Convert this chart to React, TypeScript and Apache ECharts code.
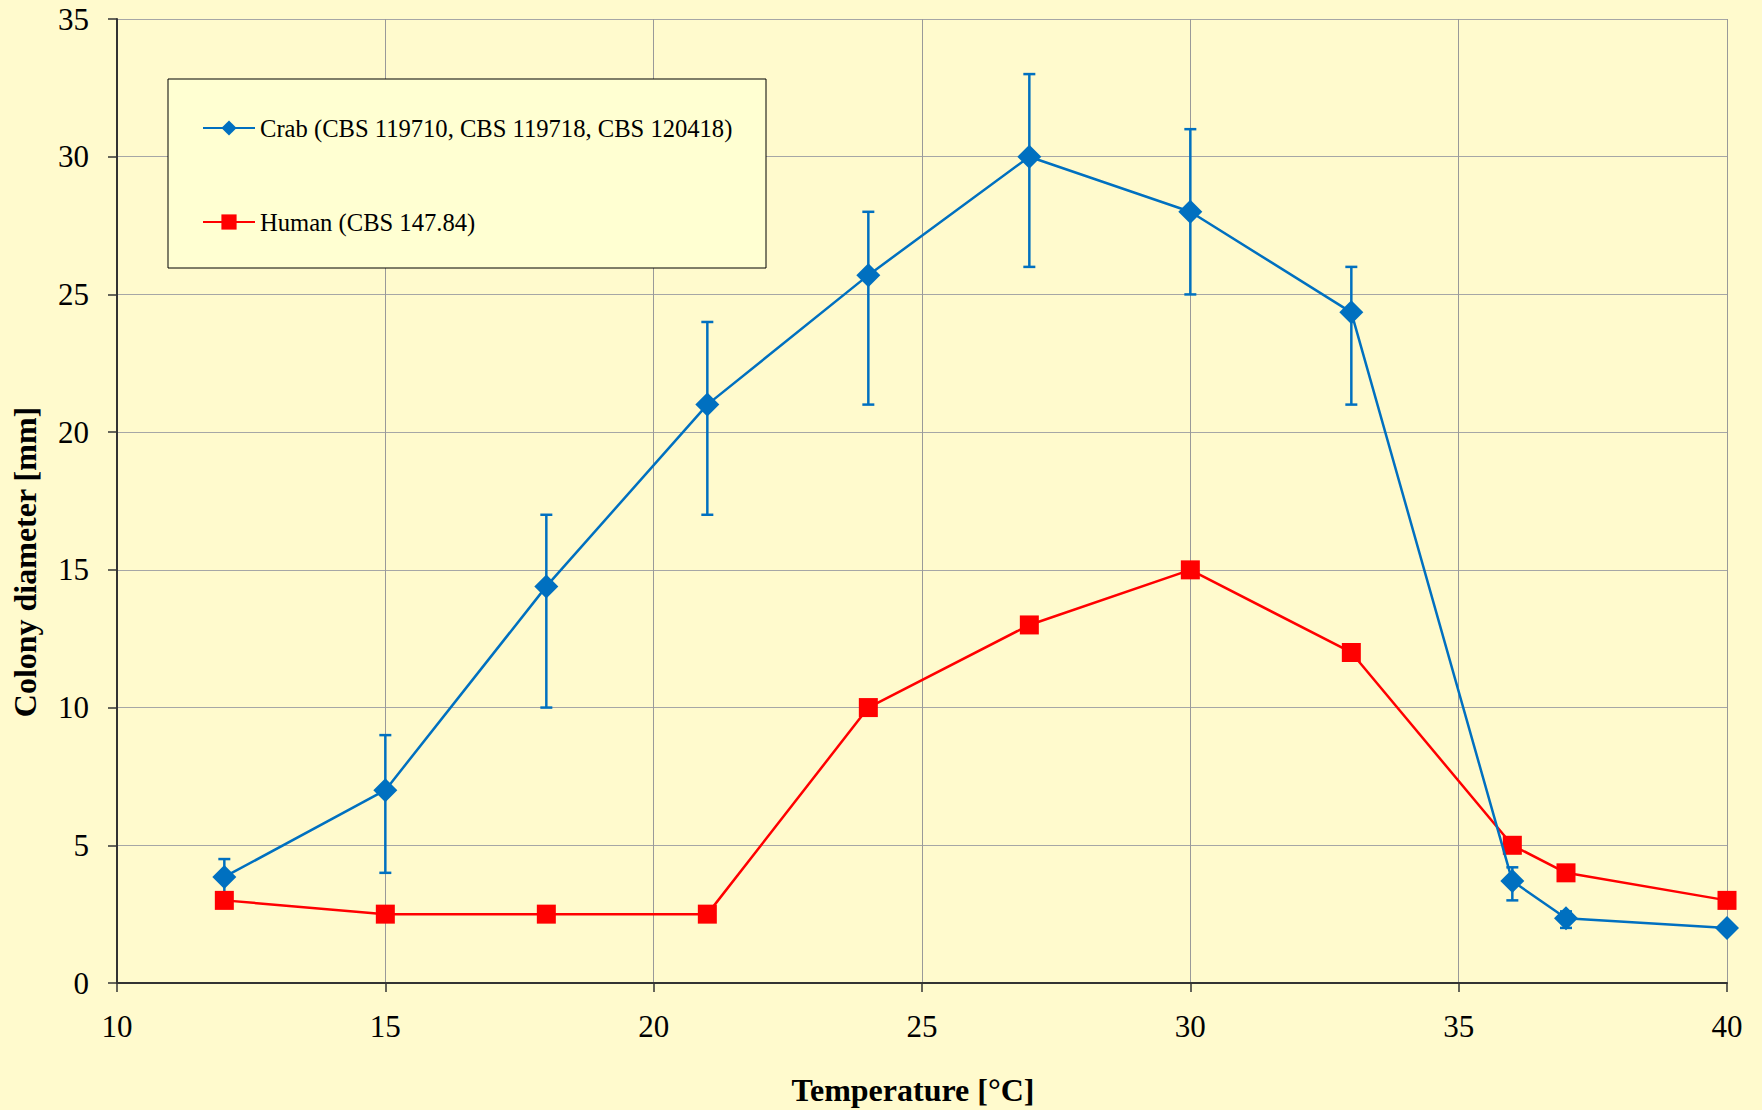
import React, { useEffect, useRef } from "react";
import * as echarts from "echarts";

const temperatures = [12, 15, 18, 21, 24, 27, 30, 33, 36, 37, 40];
const crabValues = [3.85, 7.0, 14.4, 21.0, 25.7, 30.0, 28.0, 24.35, 3.7, 2.35, 2.0];
const humanValues = [3.0, 2.5, 2.5, 2.5, 10.0, 13.0, 15.0, 12.0, 5.0, 4.0, 3.0];
const crabErrorLow = [3.2, 4.0, 10.0, 17.0, 21.0, 26.0, 25.0, 21.0, 3.0, 2.0];
const crabErrorHigh = [4.5, 9.0, 17.0, 24.0, 28.0, 33.0, 31.0, 26.0, 4.2, 2.6];
const xTicks = [10, 15, 20, 25, 30, 35, 40];
const yTicks = [0, 5, 10, 15, 20, 25, 30, 35];

const crabName = "Crab (CBS 119710, CBS 119718, CBS 120418)";
const humanName = "Human (CBS 147.84)";

const SERIF = '"Liberation Serif", "Times New Roman", "DejaVu Serif", serif';
const BLUE = "#0070C0";
const RED = "#FF0000";
const BG = "#FFFACD";

export default function App() {
  const ref = useRef<HTMLDivElement>(null);

  useEffect(() => {
    document.body.style.margin = "0";
    if (!ref.current) return;
    const chart = echarts.init(ref.current, undefined, { renderer: "svg" });

    const crabData = temperatures.map((t, i) => [t, crabValues[i]]);
    const humanData = temperatures.map((t, i) => [t, humanValues[i]]);
    const errData = crabErrorLow.map((lo, i) => [temperatures[i], lo, crabErrorHigh[i]]);

    chart.setOption({
      animation: false,
      backgroundColor: BG,
      textStyle: { fontFamily: SERIF },
      grid: { left: 117, right: 35, top: 19, bottom: 127, containLabel: false },
      xAxis: {
        type: "value",
        min: xTicks[0],
        max: xTicks[xTicks.length - 1],
        interval: 5,
        axisLine: { show: true, onZero: false, lineStyle: { color: "#333333", width: 2 } },
        axisTick: { show: true, inside: false, length: 9, lineStyle: { color: "#333333", width: 1.5 } },
        axisLabel: { color: "#000", fontFamily: SERIF, fontSize: 31, margin: 28 },
        splitLine: { show: true, lineStyle: { color: "#999999", width: 1 } },
      },
      yAxis: {
        type: "value",
        min: yTicks[0],
        max: yTicks[yTicks.length - 1],
        interval: 5,
        axisLine: { show: true, lineStyle: { color: "#333333", width: 2 } },
        axisTick: { show: true, inside: false, length: 9, lineStyle: { color: "#333333", width: 1.5 } },
        axisLabel: { color: "#000", fontFamily: SERIF, fontSize: 31, margin: 28 },
        splitLine: { show: true, lineStyle: { color: "#A6A6A6", width: 1 } },
      },
      legend: {
        orient: "vertical",
        left: 202,
        top: 115,
        itemWidth: 52,
        itemHeight: 19,
        itemGap: 68,
        padding: 0,
        z: 10,
        textStyle: { fontFamily: SERIF, fontSize: 24.6, color: "#000", lineHeight: 26 },
        data: [crabName, humanName],
      },
      graphic: [
        {
          type: "rect",
          z: 5,
          shape: { x: 168, y: 79, width: 598, height: 189 },
          style: { fill: "#FFFFD2", stroke: "#000", lineWidth: 1 },
        },
        {
          type: "text",
          x: 913,
          y: 1090,
          style: {
            text: "Temperature [°C]",
            font: `bold 32px ${SERIF}`,
            fill: "#000",
            align: "center",
            verticalAlign: "middle",
          },
        },
        {
          type: "text",
          x: 25,
          y: 562,
          rotation: Math.PI / 2,
          style: {
            text: "Colony diameter [mm]",
            font: `bold 32px ${SERIF}`,
            fill: "#000",
            align: "center",
            verticalAlign: "middle",
          },
        },
      ],
      series: [
        {
          type: "custom",
          name: "Crab error",
          z: 1,
          silent: true,
          data: errData,
          renderItem: (params: any, api: any) => {
            const x = api.value(0);
            const lo = api.coord([x, api.value(1)]);
            const hi = api.coord([x, api.value(2)]);
            const cap = 6;
            const style = { stroke: BLUE, lineWidth: 2.5 };
            return {
              type: "group",
              children: [
                { type: "line", shape: { x1: lo[0], y1: lo[1], x2: hi[0], y2: hi[1] }, style },
                { type: "line", shape: { x1: lo[0] - cap, y1: lo[1], x2: lo[0] + cap, y2: lo[1] }, style },
                { type: "line", shape: { x1: hi[0] - cap, y1: hi[1], x2: hi[0] + cap, y2: hi[1] }, style },
              ],
            };
          },
        },
        {
          type: "line",
          name: humanName,
          z: 2,
          data: humanData,
          symbol: "rect",
          symbolSize: 19,
          lineStyle: { color: RED, width: 2.5 },
          itemStyle: { color: RED },
        },
        {
          type: "line",
          name: crabName,
          z: 3,
          data: crabData,
          symbol: "diamond",
          symbolSize: 24,
          lineStyle: { color: BLUE, width: 2.5 },
          itemStyle: { color: BLUE },
        },
      ],
    });

    return () => chart.dispose();
  }, []);

  return <div ref={ref} style={{ width: 1762, height: 1110 }} />;
}
